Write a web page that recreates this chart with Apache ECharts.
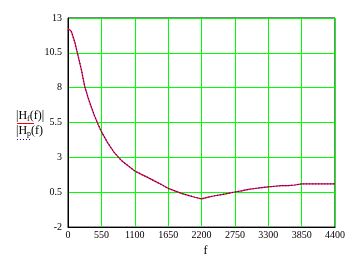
<!DOCTYPE html>
<html>
<head>
<meta charset="utf-8">
<script src="https://cdn.jsdelivr.net/npm/echarts@6/dist/echarts.min.js"></script>
<style>html,body{margin:0;padding:0;background:#fff}#c{width:362px;height:262px}</style>
</head>
<body>
<div id="c"></div>
<script>
var freq = [0,55,110,165,220,275,330,385,440,495,550,660,770,880,990,1100,1210,1320,1430,1540,1650,1760,1870,1980,2090,2200,2310,2420,2530,2640,2750,2860,2970,3080,3190,3300,3410,3520,3630,3740,3850,3960,4070,4180,4290,4400];
var hf = [12.25,12.05,11.3,10.3,9.3,8.1,7.3,6.6,5.95,5.38,4.85,4.0,3.3,2.78,2.4,2.03,1.78,1.55,1.3,1.05,0.78,0.6,0.42,0.28,0.14,0.02,0.15,0.25,0.33,0.42,0.52,0.6,0.7,0.77,0.83,0.89,0.93,0.97,0.98,1.02,1.1,1.1,1.1,1.1,1.1,1.1];
var hp = [12.1,12.0,11.3,10.3,9.3,8.1,7.3,6.6,5.95,5.38,4.85,4.0,3.3,2.78,2.4,2.03,1.78,1.55,1.3,1.05,0.78,0.6,0.42,0.28,0.14,0.02,0.15,0.25,0.33,0.42,0.52,0.6,0.7,0.77,0.83,0.89,0.93,0.97,0.98,1.02,1.1,1.1,1.1,1.1,1.1,1.1];
var yTicks = [-2,0.5,3,5.5,8,10.5,13];
var xTicks = [0,550,1100,1650,2200,2750,3300,3850,4400];

function pairs(xs, ys){ return xs.map(function(x,i){ return [x, ys[i]]; }); }

var chart = echarts.init(document.getElementById('c'), null, {renderer:'canvas'});
var font = 'Liberation Serif';
var legendRich = {
  n:{fontSize:12, fontFamily:font, fill:'#000', lineHeight:14, verticalAlign:'middle'},
  s:{fontSize:8, fontFamily:font, fill:'#000', lineHeight:14, verticalAlign:'bottom'}
};
chart.setOption({
  animation: false,
  grid: {left:68, right:27, top:18, bottom:31, show:true, borderColor:'#000', borderWidth:1, backgroundColor:'transparent'},
  xAxis: {
    type:'value', min:0, max:4400, interval:550,
    axisLine:{show:true, onZero:false, lineStyle:{color:'#000', width:1}},
    axisTick:{show:false, customValues: xTicks},
    axisLabel:{color:'#000', fontFamily:font, fontSize:10, margin:3, customValues: xTicks,
      formatter:function(v){ return String(v); }},
    splitLine:{show:true, lineStyle:{color:'#00ff00', width:1}},
    name:'f', nameLocation:'middle', nameGap:14,
    nameTextStyle:{color:'#000', fontFamily:font, fontSize:12, padding:[0,0,0,8]}
  },
  yAxis: {
    type:'value', min:-2, max:13,
    axisLine:{show:true, onZero:false, lineStyle:{color:'#000', width:1}},
    axisTick:{show:false, customValues: yTicks},
    axisLabel:{color:'#000', fontFamily:font, fontSize:10, margin:6, customValues: yTicks,
      formatter:function(v){ return String(v); }},
    splitLine:{show:true, lineStyle:{color:'#00ff00', width:1}}
  },
  graphic: [
    {type:'text', style:{x:16, y:116, verticalAlign:'middle',
      text:'{n||H}{s|f}{n|(f)|}', rich:legendRich}},
    {type:'line', shape:{x1:17,y1:123.5,x2:34,y2:123.5}, style:{stroke:'#ff0000', lineWidth:1}},
    {type:'text', style:{x:16, y:131, verticalAlign:'middle',
      text:'{n||H}{s|p}{n|(f)}', rich:legendRich}},
    {type:'line', shape:{x1:17,y1:139.5,x2:32,y2:139.5}, style:{stroke:'#0000ff', lineWidth:1, lineDash:[1,2]}}
  ],
  series: [
    {type:'line', data:pairs(freq, hf), symbol:'none', lineStyle:{color:'#ff0000', width:1.2}, z:3},
    {type:'line', data:pairs(freq, hp), symbol:'none', lineStyle:{color:'#0000ff', width:1.2, type:[1,2]}, z:4}
  ]
});
</script>
</body>
</html>
